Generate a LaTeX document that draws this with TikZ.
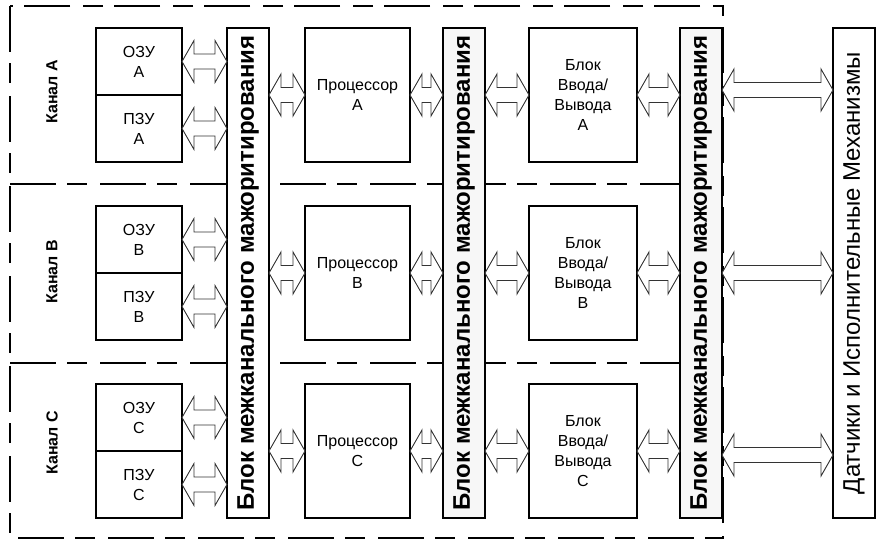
\documentclass[tikz,border=0pt]{standalone}
\usepackage{fontspec}
\setmainfont{Liberation Sans}
\usetikzlibrary{positioning, calc, backgrounds}
\definecolor{majgray}{RGB}{247,247,247}
\tikzset{
  unit/.style     = {draw, line width=2pt, minimum width=108pt,
                     minimum height=134pt, inner sep=0pt, outer sep=0pt,
                     align=center, fill=white,
                     font=\fontsize{16}{20}\selectfont},
  memunit/.style  = {unit, minimum width=86pt, minimum height=67pt},
  procunit/.style = {unit, minimum width=105pt},
  majbox/.style   = {draw, line width=2pt, minimum width=42pt,
                     minimum height=490pt, inner sep=0pt, outer sep=0pt,
                     fill=white},
  majtext/.style  = {rotate=90, font=\fontsize{24}{28}\selectfont\bfseries},
  senstext/.style = {rotate=90, font=\fontsize{24}{28}\selectfont},
  chanlabel/.style= {rotate=90, font=\fontsize{16}{20}\selectfont\bfseries},
  frame/.style    = {line width=2pt,
                     dash pattern=on 46pt off 11pt on 20pt off 13pt},
  bus/.style      = {line width=0.9pt, draw=black!80, fill=white},
}
% hollow two-way bus arrow, left end -> right end
\newcommand{\busarrow}[2]{%
  \draw[bus] let \p1=#1, \p2=#2 in
    (\x1,\y1) -- (\x1+12pt,\y1+21pt) -- (\x1+12pt,\y1+7.5pt)
    -- (\x2-12pt,\y1+7.5pt) -- (\x2-12pt,\y1+21pt) -- (\x2,\y1)
    -- (\x2-12pt,\y1-21pt) -- (\x2-12pt,\y1-7.5pt)
    -- (\x1+12pt,\y1-7.5pt) -- (\x1+12pt,\y1-21pt) -- cycle;}

\begin{document}
\begin{tikzpicture}[x=1pt, y=-1pt]
    \useasboundingbox (0,0) rectangle (877,543);

    \node[memunit] (ozuA) at (139,61.5) {ОЗУ\\A};
    \node[memunit, below=0pt of ozuA] (pzuA) {ПЗУ\\A};
    \node[memunit, below=44pt of pzuA] (ozuB) {ОЗУ\\B};
    \node[memunit, below=0pt of ozuB] (pzuB) {ПЗУ\\B};
    \node[memunit, below=44pt of pzuB] (ozuC) {ОЗУ\\C};
    \node[memunit, below=0pt of ozuC] (pzuC) {ПЗУ\\C};

    \node[majbox, anchor=north west,
          label={[majtext]center:Блок межканального мажоритирования}]
      (maj1) at ([xshift=45pt]ozuA.north east) {};
    \node[procunit, anchor=north west] (procA) at ([xshift=36pt]maj1.north east) {Процессор\\A};
    \node[procunit, below=44pt of procA] (procB) {Процессор\\B};
    \node[procunit, below=44pt of procB] (procC) {Процессор\\C};

    \node[majbox, fill=majgray, anchor=north west,
          label={[majtext]center:Блок межканального мажоритирования}]
      (maj2) at ([xshift=33pt]procA.north east) {};
    \node[unit, anchor=north west] (ioA) at ([xshift=44pt]maj2.north east) {Блок\\Ввода/\\Вывода\\A};
    \node[unit, below=44pt of ioA] (ioB) {Блок\\Ввода/\\Вывода\\B};
    \node[unit, below=44pt of ioB] (ioC) {Блок\\Ввода/\\Вывода\\C};

    \node[majbox, fill=majgray, anchor=north west,
          label={[majtext]center:Блок межканального мажоритирования}]
      (maj3) at ([xshift=43pt]ioA.north east) {};
    \node[majbox, anchor=north west,
          label={[senstext]center:Датчики и Исполнительные Механизмы}]
      (sens) at ([xshift=111pt]maj3.north east) {};

    \node[chanlabel] (chA) at (52,92) {Канал A};
    \node[chanlabel] (chB) at (52,272) {Канал B};
    \node[chanlabel] (chC) at (52,443) {Канал C};

    % channel frames
    \begin{scope}[on background layer]
      \draw[frame] (10,6) rectangle (723,538);
      \draw[frame] (10,184) -- (maj3.west |- 10,184);
      \draw[frame] (10,363) -- (maj3.west |- 10,363);
    \end{scope}

    % memory buses
    \busarrow{(ozuA.east)}{(ozuA.east -| maj1.west)}
    \busarrow{(pzuA.east)}{(pzuA.east -| maj1.west)}
    \busarrow{(ozuB.east)}{(ozuB.east -| maj1.west)}
    \busarrow{(pzuB.east)}{(pzuB.east -| maj1.west)}
    \busarrow{(ozuC.east)}{(ozuC.east -| maj1.west)}
    \busarrow{(pzuC.east)}{(pzuC.east -| maj1.west)}

    % processor buses
    \busarrow{(procA.west -| maj1.east)}{(procA.west)}
    \busarrow{(procB.west -| maj1.east)}{(procB.west)}
    \busarrow{(procC.west -| maj1.east)}{(procC.west)}
    \busarrow{(procA.east)}{(procA.east -| maj2.west)}
    \busarrow{(procB.east)}{(procB.east -| maj2.west)}
    \busarrow{(procC.east)}{(procC.east -| maj2.west)}

    % i/o buses
    \busarrow{(ioA.west -| maj2.east)}{(ioA.west)}
    \busarrow{(ioB.west -| maj2.east)}{(ioB.west)}
    \busarrow{(ioC.west -| maj2.east)}{(ioC.west)}
    \busarrow{(ioA.east)}{(ioA.east -| maj3.west)}
    \busarrow{(ioB.east)}{(ioB.east -| maj3.west)}
    \busarrow{(ioC.east)}{(ioC.east -| maj3.west)}

    % field buses
    \coordinate (busA) at ([yshift=5pt]ioA.east);
    \coordinate (busB) at (ioB.east);
    \coordinate (busC) at ([yshift=-4pt]ioC.east);
    \busarrow{(busA -| maj3.east)}{(busA -| sens.west)}
    \busarrow{(busB -| maj3.east)}{(busB -| sens.west)}
    \busarrow{(busC -| maj3.east)}{(busC -| sens.west)}
\end{tikzpicture}
\end{document}
